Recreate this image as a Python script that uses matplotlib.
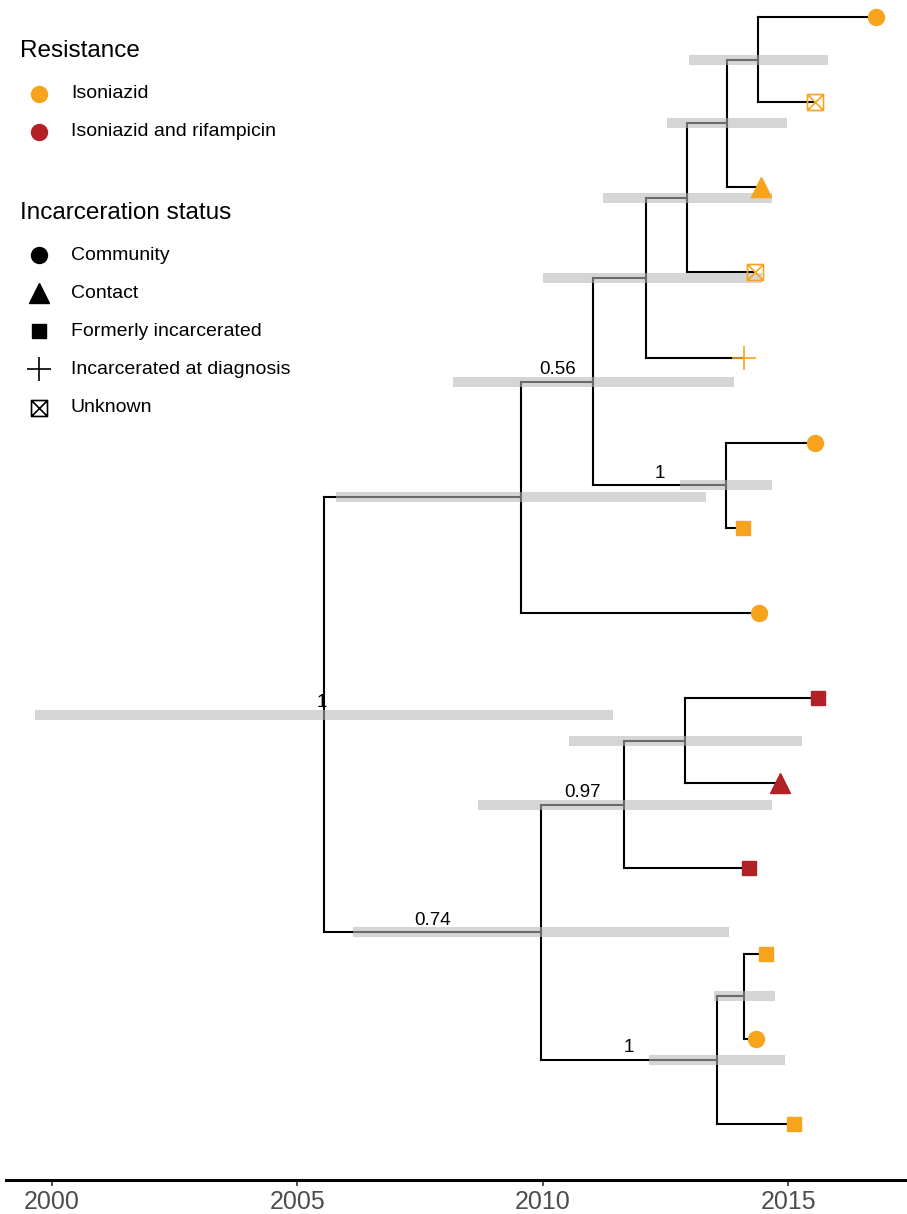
import matplotlib
matplotlib.use("Agg")
import matplotlib.pyplot as plt
from matplotlib.path import Path
from matplotlib.lines import Line2D

# tips, listed top to bottom
tip_dates = [2016.79, 2015.55, 2014.45, 2014.33, 2014.10, 2015.55, 2014.08,
             2014.41, 2015.61, 2014.84, 2014.20, 2014.55, 2014.35, 2015.12]
tip_resistance = ["Isoniazid"] * 8 + ["Isoniazid and rifampicin"] * 3 + ["Isoniazid"] * 3
tip_status = ["Community", "Unknown", "Contact", "Unknown", "Incarcerated at diagnosis",
              "Community", "Formerly incarcerated", "Community",
              "Formerly incarcerated", "Contact", "Formerly incarcerated",
              "Formerly incarcerated", "Community", "Formerly incarcerated"]

# internal nodes (children: node name or tip number 1..14)
node_names = ["root", "A", "B", "C", "D", "E", "F", "G", "H", "I", "J", "K", "L"]
node_children = [["A", "H"], ["B", 8], ["C", "G"], ["D", 5], ["E", 4], ["F", 3], [1, 2],
                 [6, 7], ["I", "K"], ["J", 11], [9, 10], ["L", 14], [12, 13]]
node_dates = [2005.54, 2009.56, 2011.03, 2012.10, 2012.94, 2013.76, 2014.39,
              2013.74, 2009.97, 2011.66, 2012.90, 2013.55, 2014.10]
hpd_low = [1999.65, 2005.79, 2008.17, 2010.01, 2011.23, 2012.53, 2012.98,
           2012.80, 2006.13, 2008.68, 2010.54, 2012.17, 2013.49]
hpd_high = [2011.43, 2013.33, 2013.90, 2014.47, 2014.67, 2014.98, 2015.81,
            2014.67, 2013.80, 2014.67, 2015.28, 2014.94, 2014.73]
posterior = ["1", "", "0.56", "", "", "", "", "1", "0.74", "0.97", "", "1", ""]

resistance_levels = ["Isoniazid", "Isoniazid and rifampicin"]
resistance_colors = {"Isoniazid": "#F8A31C", "Isoniazid and rifampicin": "#B22126"}
status_levels = ["Community", "Contact", "Formerly incarcerated",
                 "Incarcerated at diagnosis", "Unknown"]

unknown_path = Path([(-1, -1), (1, -1), (1, 1), (-1, 1), (-1, -1),
                     (-1, -1), (1, 1), (-1, 1), (1, -1)],
                    [Path.MOVETO, Path.LINETO, Path.LINETO, Path.LINETO, Path.CLOSEPOLY,
                     Path.MOVETO, Path.LINETO, Path.MOVETO, Path.LINETO])

status_style = {
    "Community": dict(marker="o", ms=11.5),
    "Contact": dict(marker="^", ms=14),
    "Formerly incarcerated": dict(marker="s", ms=10.5),
    "Incarcerated at diagnosis": dict(marker="+", ms=17, mew=1.2),
    "Unknown": dict(marker=unknown_path, ms=11.5, mew=1.2, mfc="none"),
}

FONT = ["Liberation Sans", "DejaVu Sans"]
plt.rcParams["font.family"] = FONT

W, H = 907, 1214
fig = plt.figure(figsize=(W / 100, H / 100), dpi=100)
ax = fig.add_axes([0, (H - 1180) / H, 1, 1180 / H])

# layout: y of tips is their rank, internal nodes at the mean of their children
idx = {n: i for i, n in enumerate(node_names)}
node_y = {}


def get_y(c):
    if isinstance(c, int):
        return c
    if c not in node_y:
        ys = [get_y(k) for k in node_children[idx[c]]]
        node_y[c] = sum(ys) / len(ys)
    return node_y[c]


def get_x(c):
    return tip_dates[c - 1] if isinstance(c, int) else node_dates[idx[c]]


get_y("root")
parent_x = {}
for i, name in enumerate(node_names):
    kids = node_children[i]
    ys = [get_y(k) for k in kids]
    ax.plot([node_dates[i], node_dates[i]], [min(ys), max(ys)], color="black",
            lw=1.5, solid_capstyle="projecting", zorder=2)
    for k in kids:
        parent_x[k] = node_dates[i]
        ax.plot([node_dates[i], get_x(k)], [get_y(k), get_y(k)], color="black",
                lw=1.5, solid_capstyle="projecting", zorder=2)

# HPD bars
for i, name in enumerate(node_names):
    ax.plot([hpd_low[i], hpd_high[i]], [node_y[name], node_y[name]], color="#b8b8b8",
            alpha=0.58, lw=7.2, solid_capstyle="butt", zorder=3)

# posterior labels on branch midpoints (root label sits under its own line)
for i, name in enumerate(node_names):
    if not posterior[i]:
        continue
    px = parent_x.get(name, node_dates[i])
    dx = -1.2 if name == "root" else 0
    ax.annotate(posterior[i], ((px + node_dates[i]) / 2, node_y[name]),
                xytext=(dx, 2.5), textcoords="offset points", ha="center", va="bottom",
                fontsize=13.5, color="black", zorder=1)

# tip markers
for t in range(14):
    st = dict(status_style[tip_status[t]])
    col = resistance_colors[tip_resistance[t]]
    st.setdefault("mfc", col)
    ax.plot(tip_dates[t], t + 1, linestyle="none", mec=col, color=col,
            zorder=4, clip_on=False, **st)

xmin, xmax = 1998.94, 2017.42
ax.set_xlim(xmin, xmax)
ax.set_ylim(14.66, 0.80)
ax.set_yticks([])
ax.set_xticks([2000, 2005, 2010, 2015])
for s in ["top", "left", "right"]:
    ax.spines[s].set_visible(False)
ax.spines["bottom"].set_linewidth(2.2)
ax.spines["bottom"].set_bounds(xmin + 6 / 49.07, xmax)
ax.tick_params(axis="x", length=4, width=1.2, color="#333333", pad=3.5,
               labelsize=18, labelcolor="#4d4d4d")
ax.patch.set_visible(False)


# legends (pixel positions)
def fx(x):
    return x / W


def fy(y):
    return 1 - y / H


def legend_block(title, ty, labels, ys, styles):
    fig.text(fx(20), fy(ty), title, fontsize=17.5, va="center", ha="left")
    for lab, y, st in zip(labels, ys, styles):
        st = dict(st)
        fig.add_artist(Line2D([fx(39)], [fy(y)], transform=fig.transFigure,
                              linestyle="none", **st))
        fig.text(fx(71), fy(y), lab, fontsize=14, va="center", ha="left")


legend_block("Resistance", 51, resistance_levels, [94, 132],
             [dict(marker="o", ms=11.5, color=resistance_colors[r], mec=resistance_colors[r])
              for r in resistance_levels])

leg_styles = []
for s in status_levels:
    st = dict(status_style[s])
    st.setdefault("mfc", "black")
    st["mec"] = "black"
    st["color"] = "black"
    leg_styles.append(st)
legend_block("Incarceration status", 213, status_levels, [255, 293, 331, 369, 408], leg_styles)

fig.savefig("out.png", dpi=100)
